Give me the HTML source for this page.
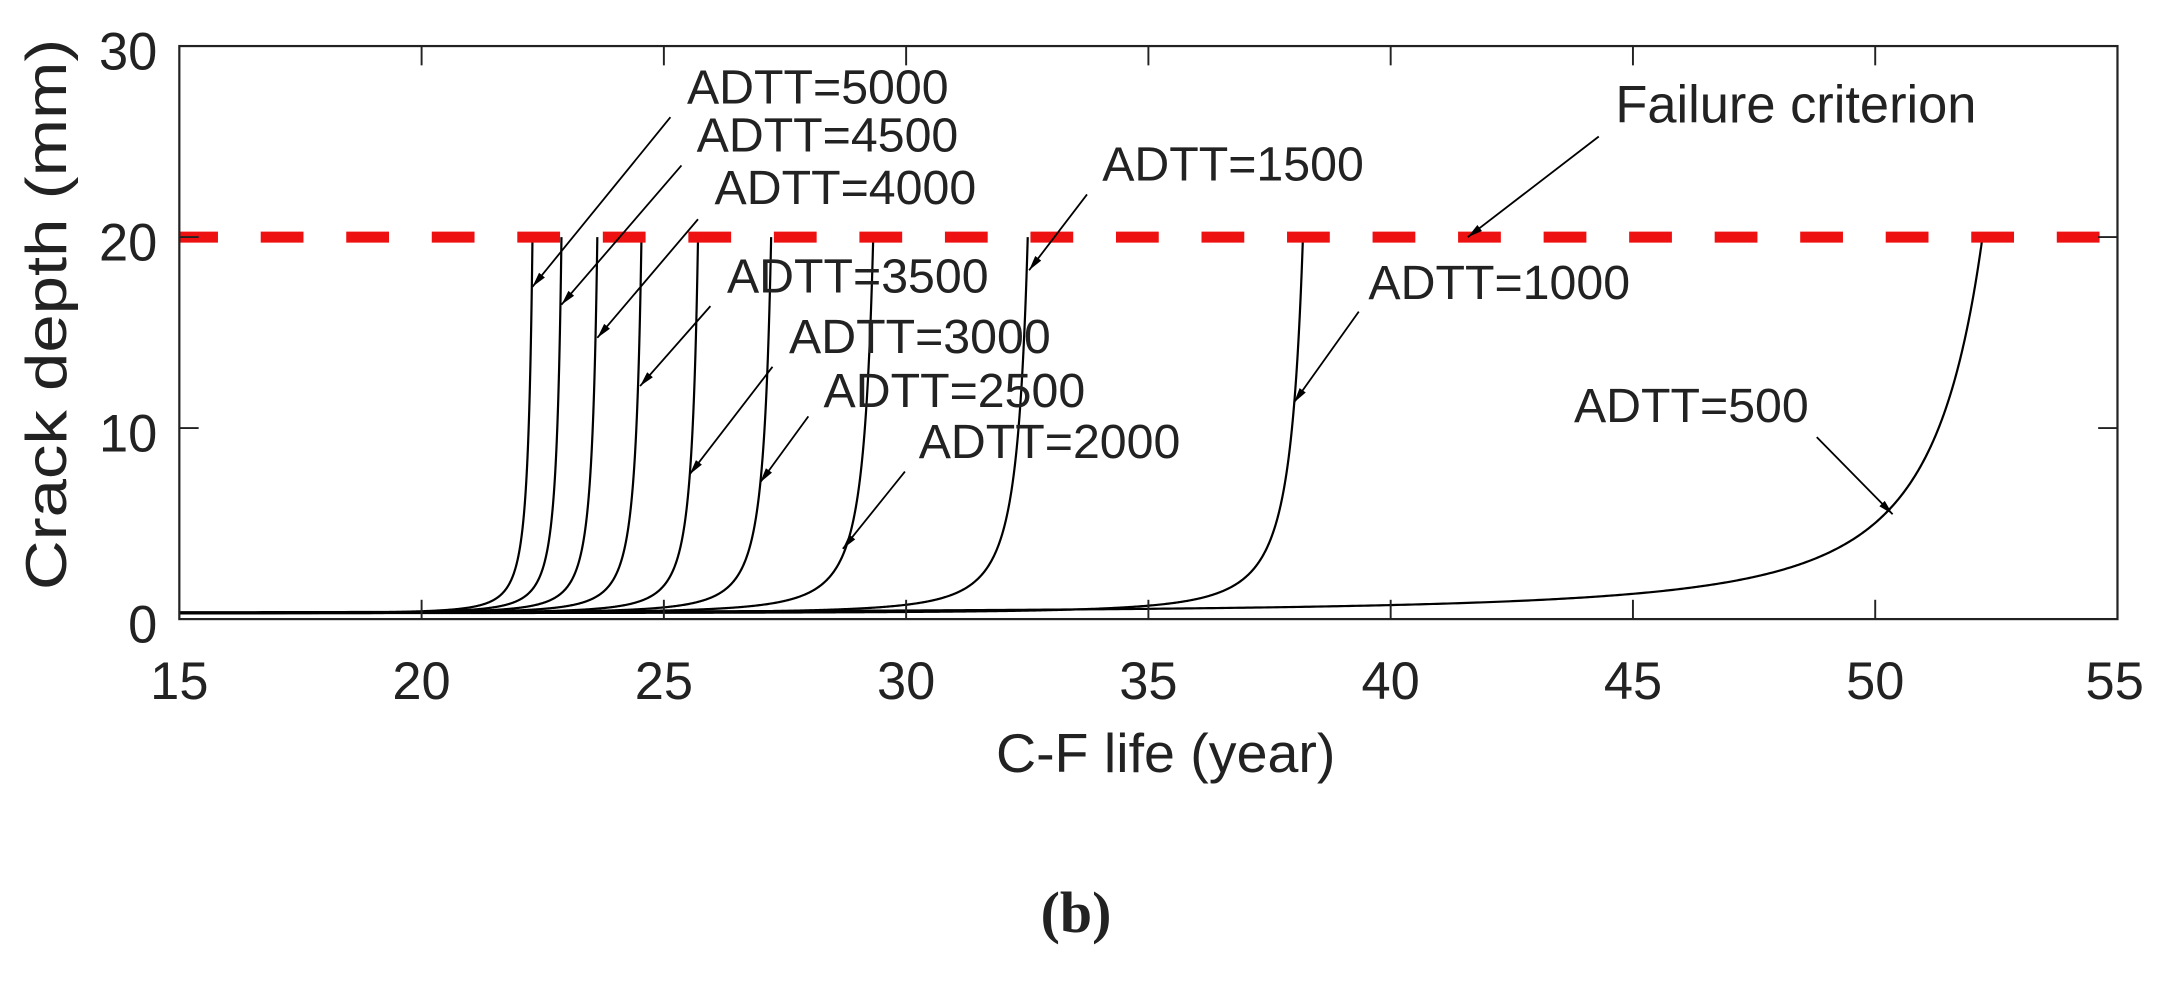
<!DOCTYPE html>
<html><head><meta charset="utf-8"><style>
html,body{margin:0;padding:0;background:#fff;}
svg{display:block;}
text{font-family:"Liberation Sans",Arial,sans-serif;fill:#222;}
</style></head><body>
<svg id="s" width="2163" height="990" viewBox="0 0 1568 718" preserveAspectRatio="none" xmlns="http://www.w3.org/2000/svg">
<defs>
<marker id="ah" viewBox="0 0 14 10" refX="14" refY="5" markerWidth="14" markerHeight="6" orient="auto" markerUnits="strokeWidth">
<path d="M0,1.5 L14,5 L0,8.5 z" fill="#000"/></marker>
</defs>
<rect x="0" y="0" width="1568" height="718" fill="#fff"/>
<g id="curves" fill="none" stroke="#000" stroke-width="1.6"></g>
<line x1="130" y1="172" x2="1535" y2="172" stroke="#ee1111" stroke-width="8" stroke-dasharray="31,31" stroke-dashoffset="3"/>
<rect x="130" y="33.4" width="1405" height="415.6" fill="none" stroke="#222" stroke-width="1.6"/>
<g id="ticks" stroke="#222" stroke-width="1.4"></g>
<g font-size="38" text-anchor="middle">
<text x="130" y="507">15</text><text x="305.6" y="507">20</text><text x="481.3" y="507">25</text>
<text x="656.9" y="507">30</text><text x="832.5" y="507">35</text><text x="1008.1" y="507">40</text>
<text x="1183.8" y="507">45</text><text x="1359.4" y="507">50</text><text x="1533" y="507">55</text>
</g>
<g font-size="38" text-anchor="end">
<text x="114" y="466">0</text><text x="114" y="327.5">10</text><text x="114" y="189">20</text><text x="114" y="50.5">30</text>
</g>
<text x="845" y="560" font-size="40" text-anchor="middle" textLength="246" lengthAdjust="spacingAndGlyphs">C-F life (year)</text>
<text transform="translate(48,228) rotate(-90)" font-size="42" text-anchor="middle" textLength="400" lengthAdjust="spacingAndGlyphs">Crack depth (mm)</text>
<text x="780" y="676" font-size="42" text-anchor="middle" style="font-family:'Liberation Serif',serif;font-weight:bold">(b)</text>
<g font-size="35">
<text x="498" y="75">ADTT=5000</text>
<text x="505" y="110">ADTT=4500</text>
<text x="518" y="148">ADTT=4000</text>
<text x="527" y="212">ADTT=3500</text>
<text x="572" y="256">ADTT=3000</text>
<text x="597" y="295">ADTT=2500</text>
<text x="666" y="332">ADTT=2000</text>
<text x="799" y="131">ADTT=1500</text>
<text x="992" y="217">ADTT=1000</text>
<text x="1141" y="306">ADTT=500</text>
<text x="1171" y="89" font-size="38">Failure criterion</text>
</g>
<g stroke="#000" stroke-width="1.3" marker-end="url(#ah)">
<line x1="486" y1="85" x2="386" y2="208"/>
<line x1="494" y1="120" x2="407" y2="221"/>
<line x1="506" y1="159" x2="433" y2="245"/>
<line x1="515" y1="222" x2="464" y2="280"/>
<line x1="560" y1="266" x2="500" y2="344"/>
<line x1="586" y1="302" x2="551" y2="350"/>
<line x1="656" y1="342" x2="611" y2="398"/>
<line x1="788" y1="141" x2="746" y2="196"/>
<line x1="985" y1="226" x2="938" y2="292"/>
<line x1="1317" y1="317" x2="1372" y2="373"/>
<line x1="1159" y1="99" x2="1064" y2="172"/>
</g>
</svg>
<script>
(function(){
var ns="http://www.w3.org/2000/svg";
function X(t){return 130+(t-15)*35.125;}
function Y(a){return 449-a*13.853;}
var tk=document.getElementById("ticks");
function ln(x1,y1,x2,y2){var l=document.createElementNS(ns,"line");l.setAttribute("x1",x1);l.setAttribute("y1",y1);l.setAttribute("x2",x2);l.setAttribute("y2",y2);tk.appendChild(l);}
for(var t=20;t<55;t+=5){ln(X(t),449,X(t),435);ln(X(t),33.4,X(t),47.4);}
for(var a=10;a<30;a+=10){ln(130,Y(a),144,Y(a));ln(1535,Y(a),1521,Y(a));}
var ends=[[1.2,386],[1.1,407],[1.0,433],[0.9,465],[0.85,506],[0.7,559],[0.55,633],[0.5,745],[0.42,944.5],[0.105,1437]];
var g=document.getElementById("curves");
ends.forEach(function(e){
  var T=(e[1]-130)/35.125+15, s=e[0];
  var d="";
  for(var i=0;i<=700;i++){
    var t=15+(T-15)*(1-Math.pow(1-i/700,3));
    var u=0.224+s*(T-t);
    var a=0.3+Math.pow(u,-2)-0.3*Math.pow(0.224/u,2);
    if(a>20)a=20;
    d+=(i?"L":"M")+X(t).toFixed(2)+","+Y(a).toFixed(2);
  }
  d+="L"+X(T).toFixed(2)+","+Y(20);
  var p=document.createElementNS(ns,"path");p.setAttribute("d",d);g.appendChild(p);
});
})();
</script>
</body></html>
